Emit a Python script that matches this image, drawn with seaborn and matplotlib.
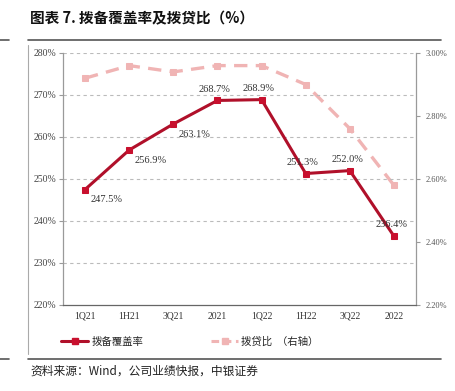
import matplotlib
matplotlib.use("Agg")
import matplotlib.pyplot as plt
from matplotlib.lines import Line2D
import seaborn as sns
import pandas as pd

periods = ["1Q21", "1H21", "3Q21", "2021", "1Q22", "1H22", "3Q22", "2022"]
coverage = [247.5, 256.9, 263.1, 268.7, 268.9, 251.3, 252.0, 236.4]
loan_ratio = [2.92, 2.96, 2.94, 2.96, 2.96, 2.90, 2.76, 2.58]
left_ticks = [220, 230, 240, 250, 260, 270, 280]
right_ticks = [2.20, 2.40, 2.60, 2.80, 3.00]
label_pos = ["br", "br", "br", "a", "a", "a", "a", "a"]

sns.set_theme(style="white")
plt.rcParams['font.family'] = ['Liberation Serif', 'Noto Sans CJK SC']

df = pd.DataFrame({"period": periods, "coverage": coverage, "ratio": loan_ratio})
df["x"] = range(len(periods))

RED = "#B0102A"
RED_M = "#C8102E"
PINK = "#F0B4B4"
GRAY = "#9A9A9A"

fig = plt.figure(figsize=(4.55, 3.91), dpi=100)
ax = fig.add_axes([63/455, 1-305/391, (416-63)/455, (305-53)/391])
ax2 = ax.twinx()

sns.lineplot(data=df, x="x", y="ratio", ax=ax2, color=PINK, linewidth=2.4,
             marker="s", markersize=5, markeredgecolor=PINK, markerfacecolor=PINK,
             dashes=False, linestyle=(0, (4, 2.5)), sort=False)
sns.lineplot(data=df, x="x", y="coverage", ax=ax, color=RED, linewidth=2.2,
             marker="s", markersize=5, markeredgecolor=RED_M, markerfacecolor=RED_M,
             sort=False, zorder=5)
ax.set_zorder(ax2.get_zorder() + 1)
ax.patch.set_visible(False)

ax.set_xlim(-0.5, len(periods) - 0.5)
ax.set_ylim(220, 280)
ax2.set_ylim(2.2, 3.0)

ax.set_yticks(left_ticks)
ax.set_yticklabels([f"{v}%" for v in left_ticks])
ax2.set_yticks(right_ticks)
ax2.set_yticklabels([f"{v:.2f}%" for v in right_ticks])

ax.set_xticks([i - 0.5 for i in range(len(periods) + 1)])
ax.set_xticklabels([])
ax.set_xticks(range(len(periods)), minor=True)
ax.set_xticklabels(periods, minor=True)
ax.tick_params(axis="x", which="major", direction="in", length=3, color=GRAY, width=0.8)
ax.tick_params(axis="x", which="minor", length=0, pad=5, labelsize=7, labelcolor="#333333")
ax.tick_params(axis="y", direction="out", length=3, color=GRAY, width=0.8,
               labelsize=7, labelcolor="#444444", pad=2)
ax2.tick_params(axis="y", direction="out", length=3, color=GRAY, width=0.8,
                labelsize=6, labelcolor="#555555", pad=4)

for t in left_ticks[1:]:
    ax.axhline(t, color="#BBBBBB", linestyle=(0, (3, 3)), linewidth=0.8, zorder=0)

for a in (ax, ax2):
    a.set_xlabel("")
    a.set_ylabel("")
    a.spines["top"].set_visible(False)
    for s in ("left", "right", "bottom"):
        a.spines[s].set_color(GRAY)
        a.spines[s].set_linewidth(0.9)
ax.spines["right"].set_visible(False)
ax2.spines["left"].set_visible(False)
ax2.spines["bottom"].set_visible(False)
ax.spines["bottom"].set_color("#666666")

for i, (v, p) in enumerate(zip(coverage, label_pos)):
    if p == "br":
        ax.annotate(f"{v}%", (i, v), xytext=(4, -4), textcoords="offset points",
                    ha="left", va="top", fontsize=7.5, color="#333333", zorder=6)
    else:
        ax.annotate(f"{v}%", (i, v), xytext=(-2, 5), textcoords="offset points",
                    ha="center", va="bottom", fontsize=7.5, color="#333333", zorder=6)

# legend
handles = [Line2D([], [], color=RED, linewidth=2.2, marker="s", markersize=5,
                  markerfacecolor=RED_M, markeredgecolor=RED_M),
           Line2D([], [], color=PINK, linewidth=2.2, marker="s", markersize=5,
                  linestyle=(0, (2.5, 1.5)), markerfacecolor=PINK, markeredgecolor=PINK)]
fig.legend(handles, ["拨备覆盖率", "拨贷比  （右轴）"], loc="center", ncol=2,
           bbox_to_anchor=(190/455, 1-342/391), frameon=False,
           handlelength=2.6, handletextpad=0.3, columnspacing=6.5,
           prop={"family": ["Noto Sans CJK SC"], "size": 7.5})

# page decorations
fig.text(30/455, 1-18/391, "图表 7. 拨备覆盖率及拨贷比（%）", fontsize=10.5, weight="bold",
         family=["Noto Sans CJK SC", "DejaVu Sans"], va="center", ha="left", color="#111111")
fig.add_artist(Line2D([28/455, 441/455], [1-40/391, 1-40/391], color="#555555", linewidth=1.2))
fig.add_artist(Line2D([0, 9/455], [1-40/391, 1-40/391], color="#555555", linewidth=1.2))
fig.add_artist(Line2D([28/455, 28/455], [1-45/391, 1-354/391], color="#AAAAAA", linewidth=0.8))
fig.add_artist(Line2D([28/455, 441/455], [1-359/391, 1-359/391], color="#555555", linewidth=1.2))
fig.add_artist(Line2D([0, 9/455], [1-359/391, 1-359/391], color="#555555", linewidth=1.2))
fig.text(30/455, 1-371/391, "资料来源：Wind，公司业绩快报，中银证券", fontsize=8.5, style="italic",
         family=["Noto Sans CJK SC", "DejaVu Sans"], va="center", ha="left", color="#222222")

fig.savefig("out.png", dpi=100)
